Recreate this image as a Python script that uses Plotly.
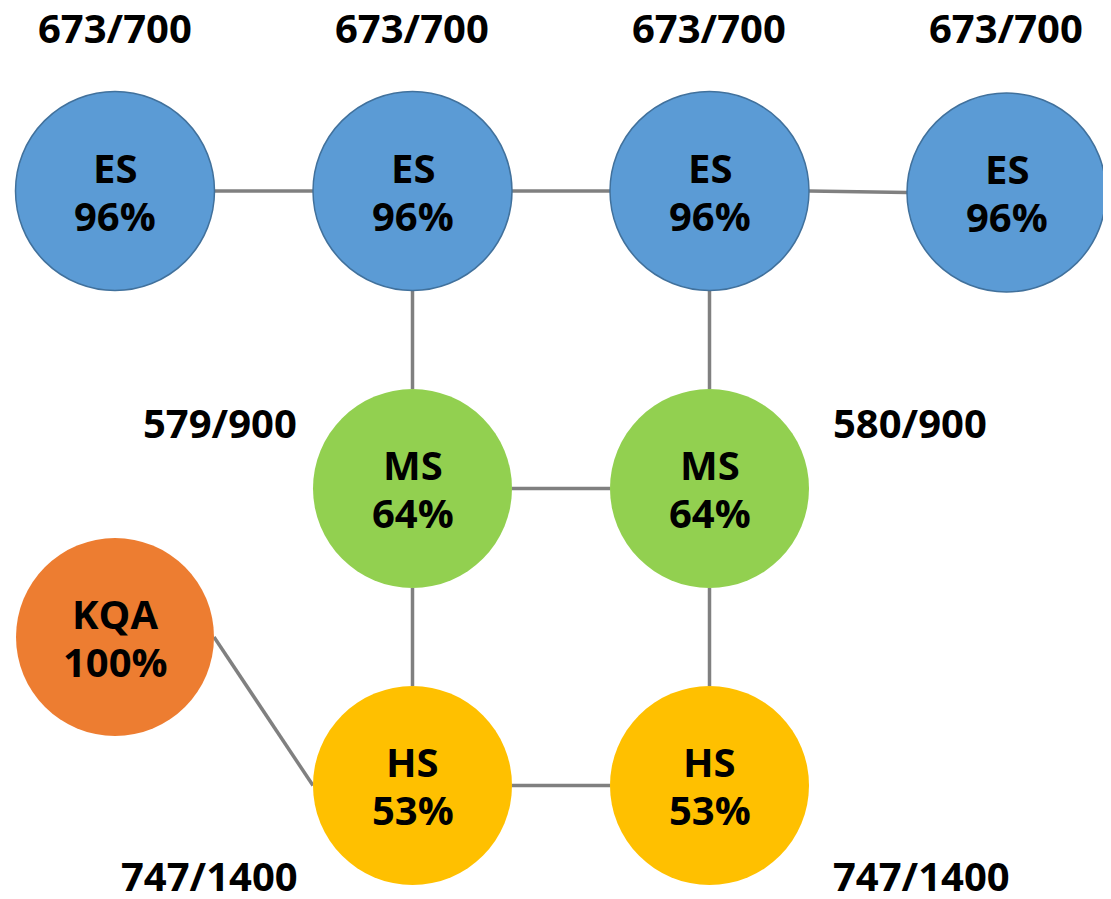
import plotly.graph_objects as go

# nodes
node_names = ["ES", "ES", "ES", "ES", "MS", "MS", "KQA", "HS", "HS"]
node_pct = [96, 96, 96, 96, 64, 64, 100, 53, 53]
node_x = [115, 412.5, 709.5, 1006.5, 412.5, 709.5, 115, 412.5, 709.5]
node_y = [191, 191, 191, 192.5, 488.5, 488.5, 637, 785.5, 785.5]
node_r = [99.5, 99.5, 99.5, 99.5, 99.5, 99.5, 99, 99.5, 99.5]

# edges: (from node, side, to node, side)
edges = [
    (0, "right", 1, "left"),
    (1, "right", 2, "left"),
    (2, "right", 3, "left"),
    (1, "bottom", 4, "top"),
    (2, "bottom", 5, "top"),
    (4, "right", 5, "left"),
    (4, "bottom", 7, "top"),
    (5, "bottom", 8, "top"),
    (7, "right", 8, "left"),
    (6, "right", 7, "left"),
]

# score labels
score_text = ["673/700", "673/700", "673/700", "673/700",
              "579/900", "580/900", "747/1400", "747/1400"]
score_x = [115, 412, 709, 1006, 220, 910, 209, 921]
score_y = [27, 27, 27, 27, 422, 422, 875, 875]

COLORS = {"ES": "#5B9BD5", "MS": "#92D050", "KQA": "#ED7D31", "HS": "#FFC000"}
FONT = "Open Sans"
PAD = 8  # page body margin


def anchor(i, side):
    x, y, r = node_x[i], node_y[i], node_r[i]
    return {"right": (x + r, y), "left": (x - r, y),
            "top": (x, y - r), "bottom": (x, y + r)}[side]


fig = go.Figure()
fig.add_trace(go.Scatter(x=[None], y=[None], showlegend=False))

shapes = []
for a, sa, b, sb in edges:
    x0, y0 = anchor(a, sa)
    x1, y1 = anchor(b, sb)
    shapes.append(dict(type="line", x0=x0, y0=y0, x1=x1, y1=y1,
                       line=dict(color="#808080", width=3.5)))

for name, x, y, r in zip(node_names, node_x, node_y, node_r):
    border = "#41719C" if name == "ES" else COLORS[name]
    shapes.append(dict(type="circle", x0=x - r, x1=x + r, y0=y - r, y1=y + r,
                       fillcolor=COLORS[name],
                       line=dict(color=border, width=1.5 if name == "ES" else 0)))

annotations = []
for name, pct, x, y in zip(node_names, node_pct, node_x, node_y):
    annotations.append(dict(x=x, y=y - 24, text=f"<b>{name}</b>", showarrow=False,
                            font=dict(family=FONT, size=40, color="black")))
    annotations.append(dict(x=x, y=y + 24, text=f"<b>{pct}%</b>", showarrow=False,
                            font=dict(family=FONT, size=40, color="black")))

for t, x, y in zip(score_text, score_x, score_y):
    annotations.append(dict(x=x, y=y, text=f"<b>{t}</b>", showarrow=False,
                            font=dict(family=FONT, size=40, color="black")))

W, H = 1111, 899
fig.update_layout(
    width=W - 2 * PAD, height=H - 2 * PAD,
    margin=dict(l=0, r=0, t=0, b=0),
    paper_bgcolor="white", plot_bgcolor="white",
    xaxis=dict(range=[PAD, W - PAD], visible=False, fixedrange=True),
    yaxis=dict(range=[H - PAD, PAD], visible=False, fixedrange=True),
    shapes=shapes,
    annotations=annotations,
    showlegend=False,
)

fig.write_html("out.html")
